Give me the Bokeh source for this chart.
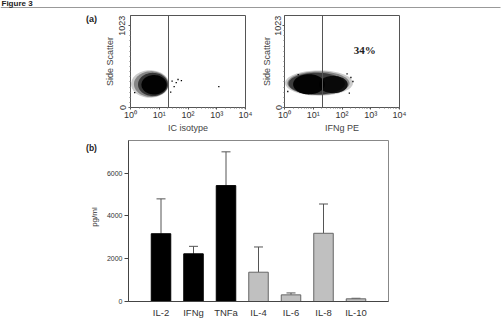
import numpy as np
from bokeh.plotting import figure
from bokeh.layouts import column, row
from bokeh.models import (Range1d, FixedTicker, Label, Whisker, ColumnDataSource,
                          FactorRange, TeeHead)
from bokeh.embed import file_html
from bokeh.resources import INLINE

# ---------------- data ----------------
cytokines = ["IL-2", "IFNg", "TNFa", "IL-4", "IL-6", "IL-8", "IL-10"]
mean_pgml = [3170, 2230, 5420, 1370, 310, 3190, 125]
sd_pgml = [1630, 350, 1580, 1180, 90, 1370, 25]
is_th1 = [True, True, True, False, False, False, False]
bar_y_ticks = [0, 2000, 4000, 6000]

log_ticks = [1, 10, 100, 1000, 10000]
log_tick_labels = ["10⁰", "10¹", "10²", "10³", "10⁴"]
ssc_ticks = [0, 1023]
gate_value = 21

# cloud layers (outer -> core): centre/radius in log10 decades (x) and SSC units (y)
iso_cx = [0.68, 0.72, 0.78, 0.82]
iso_rx = [0.66, 0.60, 0.52, 0.44]
iso_cy = [294, 292, 288, 284]
iso_ry = [172, 160, 145, 122]
iso_alpha = [0.2, 0.35, 0.6, 0.95]
iso_out_x = [28, 39, 59, 1180, 25, 1.4, 33, 45]
iso_out_y = [329, 312, 337, 262, 191, 187, 260, 350]

ifn_cx = [1.20, 1.18, 1.12, 0.85, 1.70]
ifn_rx = [1.18, 1.08, 0.98, 0.55, 0.50]
ifn_cy = [306, 303, 298, 290, 287]
ifn_ry = [158, 148, 136, 126, 108]
ifn_alpha = [0.2, 0.35, 0.55, 0.95, 0.85]
ifn_out_x = [240, 1.3, 204, 150, 3, 180]
ifn_out_y = [325, 200, 375, 420, 410, 180]
ifn_pct_text = "34%"
ifn_pct_x = 620
ifn_pct_y = 725

FONT = "Liberation Sans"


def ellipse_xy(cx, rx, cy, ry, n=72):
    t = np.linspace(0, 2 * np.pi, n)
    return list(10 ** (cx + rx * np.cos(t))), list(cy + ry * np.sin(t))


def blank(width, height):
    f = figure(width=width, height=height, x_range=Range1d(0, width), y_range=Range1d(height, 0),
               output_backend="svg", toolbar_location=None, min_border=0)
    f.axis.visible = False
    f.grid.visible = False
    f.outline_line_color = None
    return f


def flow_panel(width, bl, br, xlabel, cx, rx, cy, ry, alpha, ox, oy, tick_standoff, label_standoff):
    p = figure(width=width, height=123, x_axis_type="log",
               x_range=Range1d(1, 10000), y_range=Range1d(0, 1150),
               output_backend="svg", toolbar_location=None,
               min_border_left=bl, min_border_right=br,
               min_border_top=3, min_border_bottom=28)
    p.grid.visible = False
    p.outline_line_color = "#555555"

    for i in range(len(cx)):
        xs, ys = ellipse_xy(cx[i], rx[i], cy[i], ry[i])
        p.patch(xs, ys, fill_color="black", fill_alpha=alpha[i], line_color=None)
    p.scatter(ox, oy, marker="square", size=1.3, fill_color="black", line_color=None)
    p.line([gate_value, gate_value], [0, 1150], line_color="#555555", line_width=1)

    xa = p.xaxis[0]
    xa.ticker = FixedTicker(ticks=log_ticks,
                            minor_ticks=[m * 10 ** k for k in range(4) for m in range(2, 10)])
    xa.major_label_overrides = {float(t): l for t, l in zip(log_ticks, log_tick_labels)}
    xa.axis_label = xlabel
    ya = p.yaxis[0]
    ya.ticker = FixedTicker(ticks=ssc_ticks, minor_ticks=list(range(0, 1024, 64)))
    ya.axis_label = "Side Scatter"
    ya.major_label_orientation = "vertical"
    for ax in (xa, ya):
        ax.axis_line_color = "#555555"
        ax.major_tick_line_color = "#555555"
        ax.minor_tick_line_color = "#777777"
        ax.major_tick_out = 2
        ax.major_tick_in = 0
        ax.minor_tick_out = 1
        ax.minor_tick_in = 0
        ax.major_label_text_font = FONT
        ax.major_label_text_font_size = "9px"
        ax.major_label_text_color = "#333333"
        ax.axis_label_text_font = FONT
        ax.axis_label_text_font_size = "9px"
        ax.axis_label_text_font_style = "normal"
        ax.axis_label_text_color = "#444444"
    xa.major_label_standoff = 0
    xa.axis_label_standoff = 0
    ya.major_label_standoff = tick_standoff
    ya.axis_label_standoff = label_standoff
    return p


# ---------------- header ----------------
header = blank(502, 12)
header.segment(x0=[0], y0=[7], x1=[500], y1=[7], line_color="#999999", line_width=1)
header.add_layout(Label(x=1, y=2.5, text="Figure 3", text_font=FONT, text_font_size="8px",
                        text_font_style="bold", text_baseline="alphabetic", text_color="#222222"))

# ---------------- flow panels ----------------
lab_a = blank(100, 123)
lab_a.add_layout(Label(x=91, y=5, text="(a)", text_font=FONT, text_font_size="9px",
                       text_font_style="bold", text_align="center", text_baseline="middle",
                       text_color="#222222"))
left = flow_panel(158, 30, 13, "IC isotype", iso_cx, iso_rx, iso_cy, iso_ry, iso_alpha,
                  iso_out_x, iso_out_y, 3, 2)
right = flow_panel(244, 25, 103, "IFNg PE", ifn_cx, ifn_rx, ifn_cy, ifn_ry, ifn_alpha,
                   ifn_out_x, ifn_out_y, 1, 1)
right.add_layout(Label(x=ifn_pct_x, y=ifn_pct_y, text=ifn_pct_text, text_font="Liberation Serif",
                       text_font_size="11px", text_font_style="bold", text_align="center",
                       text_baseline="middle", text_color="#222222"))

# ---------------- bar chart ----------------
lab_b = blank(100, 185)
lab_b.add_layout(Label(x=91, y=9, text="(b)", text_font=FONT, text_font_size="8.5px",
                       text_font_style="bold", text_align="center", text_baseline="middle",
                       text_color="#222222"))
lab_b.add_layout(Label(x=94, y=88, text="pg/ml", text_font=FONT, text_font_size="8px",
                       angle=np.pi / 2, text_align="center", text_baseline="middle",
                       text_color="#333333"))

src = ColumnDataSource(dict(
    x=cytokines,
    top=mean_pgml,
    upper=[m + s for m, s in zip(mean_pgml, sd_pgml)],
    fill=["black" if t else "#c0c0c0" for t in is_th1],
    line=["black" if t else "#666666" for t in is_th1],
))
bar = figure(width=402, height=185,
             x_range=FactorRange(factors=cytokines, range_padding=0.5, range_padding_units="absolute"),
             y_range=Range1d(0, 7530), output_backend="svg", toolbar_location=None,
             min_border_left=28, min_border_right=114, min_border_top=5, min_border_bottom=17)
bar.grid.visible = False
bar.outline_line_color = "#888888"
bar.add_layout(Whisker(base="x", upper="upper", lower="top", source=src, dimension="height",
                       line_color="#555555", line_width=1,
                       upper_head=TeeHead(size=9, line_color="#555555", line_width=1),
                       lower_head=None))
bar.vbar(x="x", top="top", width=0.6, fill_color="fill", line_color="line", line_width=1, source=src)
bar.yaxis.ticker = FixedTicker(ticks=bar_y_ticks, minor_ticks=[])
bar.yaxis.major_tick_out = 4
bar.yaxis.major_tick_in = 0
bar.yaxis.major_label_standoff = 2
bar.yaxis.major_label_text_font_size = "7px"
bar.xaxis.major_tick_out = 0
bar.xaxis.major_tick_in = 0
bar.xaxis.major_label_standoff = 5
bar.xaxis.major_label_text_font_size = "9.5px"
for ax in (bar.xaxis[0], bar.yaxis[0]):
    ax.axis_line_color = "#444444"
    ax.major_tick_line_color = "#444444"
    ax.major_label_text_font = FONT
    ax.major_label_text_color = "#333333"

layout = column(row(header), row(lab_a, left, right), row(lab_b, bar))
open("out.html", "w").write(file_html(layout, INLINE))
